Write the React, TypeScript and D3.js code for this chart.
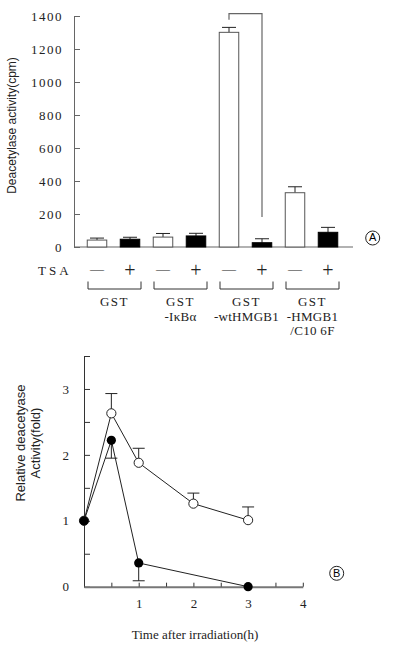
import * as d3 from "d3";
import {useEffect, useRef} from "react";

// panel A data
const groups = ["GST", "GST\n-IκBα", "GST\n-wtHMGB1", "GST\n-HMGB1\n/C10 6F"];
const tsa = ["—", "+"];
const barValues = [42, 47, 60, 67, 1301, 26, 329, 89];
const barErrors = [12, 12, 22, 16, 30, 24, 36, 30];
const yTicksA = [0, 200, 400, 600, 800, 1000, 1200, 1400];
// significance bracket between wtHMGB1 -/+ (value units)
const bracketVals = [1378, 1415, 182];

// panel B data
const timesOpen = [0, 0.5, 1, 2, 3];
const valsOpen = [1.0, 2.63, 1.88, 1.26, 1.01];
const errOpen = [0, 0.30, 0.22, 0.16, 0.20];
const timesFilled = [0, 0.5, 1, 3];
const valsFilled = [1.0, 2.22, 0.36, 0];
const errFilled = [0, 0.27, 0.27, 0];
const xTicksB = [1, 2, 3, 4];
const yTicksB = [0, 1, 2, 3];

const serif = "Liberation Serif";
const sans = "Liberation Sans";
const grey = "#666";

const App = () => {
    const ref = useRef(null);

    useEffect(() => {
        const svg = d3.select(ref.current);
        svg.selectAll("*").remove();

        // ---------- panel A ----------
        const keys = barValues.map((d, i) => "b" + i);
        const xA = d3.scalePoint().domain(keys).range([97, 328]);
        const yA = d3.scaleLinear().domain([0, 1400]).range([247, 16]);
        const barW = 19.5;

        const gy = svg.append("g")
            .attr("transform", "translate(74,0)")
            .call(d3.axisLeft(yA).tickValues(yTicksA).tickFormat(d3.format("d"))
                .tickSizeInner(-6).tickSizeOuter(0).tickPadding(11));
        gy.attr("font-family", serif).attr("font-size", 13);
        gy.select(".domain").attr("stroke", grey);
        gy.selectAll(".tick line").attr("stroke", grey);
        gy.selectAll(".tick text")
            .style("font-family", serif).style("font-size", "13px")
            .attr("letter-spacing", 1.5).attr("fill", "#222");

        svg.append("line")
            .attr("x1", 74).attr("x2", 353).attr("y1", yA(0)).attr("y2", yA(0))
            .attr("stroke", grey).attr("stroke-width", 1.2);

        svg.append("text")
            .attr("transform", `translate(13,${(yA(0) + yA(1400)) / 2 - 6}) rotate(-90)`)
            .attr("text-anchor", "middle").attr("dominant-baseline", "middle")
            .attr("font-family", sans).attr("font-size", 12).attr("fill", "#222")
            .text("Deacetylase activity(cpm)");

        // error bars
        svg.selectAll(".errA")
            .data(barValues)
            .enter()
            .append("path")
            .attr("d", (d, i) => {
                const cx = xA(keys[i]);
                const top = yA(d + barErrors[i]);
                return `M${cx},${yA(d)}V${top}M${cx - 7},${top}H${cx + 7}`;
            })
            .attr("stroke", "#222").attr("stroke-width", 1).attr("fill", "none");

        svg.selectAll(".barA")
            .data(barValues)
            .enter()
            .append("rect")
            .attr("x", (d, i) => xA(keys[i]) - barW / 2)
            .attr("y", d => yA(d))
            .attr("width", barW)
            .attr("height", d => yA(0) - yA(d))
            .attr("fill", (d, i) => i % 2 === 0 ? "#fff" : "#000")
            .attr("stroke", (d, i) => i % 2 === 0 ? "#555" : "#000")
            .attr("stroke-width", 1);

        // bracket
        const bl = xA(keys[4]), br = xA(keys[5]);
        svg.append("path")
            .attr("d", `M${bl},${yA(bracketVals[0])}V${yA(bracketVals[1])}H${br}V${yA(bracketVals[2])}`)
            .attr("stroke", grey).attr("stroke-width", 1.2).attr("fill", "none");

        // circled A
        svg.append("circle").attr("cx", 372.7).attr("cy", 238).attr("r", 7)
            .attr("fill", "none").attr("stroke", "#222");
        svg.append("text").attr("x", 372.7).attr("y", 238.5)
            .attr("text-anchor", "middle").attr("dominant-baseline", "middle")
            .attr("font-family", sans).attr("font-size", 11).text("A");

        // TSA row
        svg.append("text").attr("x", 38).attr("y", 275)
            .attr("font-family", serif).attr("font-size", 13).attr("letter-spacing", 3)
            .attr("fill", "#222").text("TSA");
        svg.selectAll(".sign")
            .data(keys)
            .enter()
            .append("text")
            .attr("x", d => xA(d))
            .attr("y", (d, i) => i % 2 === 0 ? 274 : 276.5)
            .attr("text-anchor", "middle")
            .attr("font-family", serif)
            .attr("font-size", (d, i) => i % 2 === 0 ? 14 : 20)
            .attr("fill", "#222")
            .text((d, i) => tsa[i % 2]);

        // group brackets and labels
        groups.forEach((g, gi) => {
            const mid = (xA(keys[gi * 2]) + xA(keys[gi * 2 + 1])) / 2 + 1;
            svg.append("path")
                .attr("d", `M${mid - 26.5},281.5V289H${mid + 26.5}V281.5`)
                .attr("stroke", "#333").attr("fill", "none");
            g.split("\n").forEach((line, li) => {
                svg.append("text")
                    .attr("x", mid).attr("y", 306 + li * 14.5)
                    .attr("text-anchor", "middle")
                    .attr("font-family", serif).attr("font-size", 13)
                    .attr("letter-spacing", li === 0 ? 1.5 : 0.3)
                    .attr("fill", "#222")
                    .text(line);
            });
        });

        // ---------- panel B ----------
        const xB = d3.scaleLinear().domain([0, 4]).range([84, 302.8]);
        const yB = d3.scaleLinear().domain([0, 3.5]).range([586.7, 356]);

        const gyB = svg.append("g")
            .attr("transform", "translate(84,0)")
            .call(d3.axisLeft(yB).tickValues(d3.range(0, 3.51, 0.5)).tickSizeInner(-6).tickSizeOuter(0).tickPadding(15)
                .tickFormat(d => yTicksB.includes(d) ? String(d) : ""));
        gyB.attr("font-family", serif).attr("font-size", 13);
        gyB.select(".domain").attr("stroke", "#333");
        gyB.selectAll(".tick line").attr("stroke", "#333");
        gyB.selectAll(".tick text").style("font-family", serif).style("font-size", "13px").attr("fill", "#222");

        const gxB = svg.append("g")
            .attr("transform", `translate(0,${yB(0)})`)
            .call(d3.axisBottom(xB).tickValues(d3.range(0.5, 4.01, 0.5)).tickSizeInner(-4).tickSizeOuter(0).tickPadding(12)
                .tickFormat(d => xTicksB.includes(d) ? String(d) : ""));
        gxB.attr("font-family", serif).attr("font-size", 13);
        gxB.select(".domain").attr("stroke", "#777").attr("stroke-width", 2);
        gxB.selectAll(".tick line").attr("stroke", "#333");
        gxB.selectAll(".tick text").style("font-family", serif).style("font-size", "13px").attr("fill", "#222");

        svg.append("text")
            .attr("x", 195).attr("y", 639)
            .attr("text-anchor", "middle")
            .attr("font-family", serif).attr("font-size", 13).attr("fill", "#222")
            .text("Time after irradiation(h)");

        ["Relative deacetyase", "Activity(fold)"].forEach((t, i) => {
            svg.append("text")
                .attr("transform", `translate(${21.5 + i * 15},443) rotate(-90)`)
                .attr("text-anchor", "middle").attr("dominant-baseline", "middle")
                .attr("font-family", sans).attr("font-size", 13).attr("fill", "#222")
                .text(t);
        });

        const line = d3.line().x(d => xB(d[0])).y(d => yB(d[1]));
        const openPts = timesOpen.map((t, i) => [t, valsOpen[i]]);
        const filledPts = timesFilled.map((t, i) => [t, valsFilled[i]]);

        // error bars: open up, filled down
        svg.selectAll(".errO")
            .data(openPts.filter((d, i) => errOpen[i] > 0))
            .enter()
            .append("path")
            .attr("d", d => {
                const i = timesOpen.indexOf(d[0]);
                const cx = xB(d[0]), top = yB(d[1] + errOpen[i]);
                return `M${cx},${yB(d[1])}V${top}M${cx - 6},${top}H${cx + 6}`;
            })
            .attr("stroke", "#222").attr("fill", "none");
        svg.selectAll(".errF")
            .data(filledPts.filter((d, i) => errFilled[i] > 0))
            .enter()
            .append("path")
            .attr("d", d => {
                const i = timesFilled.indexOf(d[0]);
                const cx = xB(d[0]), bot = yB(d[1] - errFilled[i]);
                return `M${cx},${yB(d[1])}V${bot}M${cx - 6},${bot}H${cx + 6}`;
            })
            .attr("stroke", "#222").attr("fill", "none");

        svg.append("path").attr("d", line(openPts))
            .attr("fill", "none").attr("stroke", "#222").attr("stroke-width", 1);
        svg.append("path").attr("d", line(filledPts))
            .attr("fill", "none").attr("stroke", "#222").attr("stroke-width", 1);

        svg.selectAll(".ptO")
            .data(openPts)
            .enter()
            .append("circle")
            .attr("cx", d => xB(d[0])).attr("cy", d => yB(d[1])).attr("r", 4.6)
            .attr("fill", "#fff").attr("stroke", "#222").attr("stroke-width", 1);
        svg.selectAll(".ptF")
            .data(filledPts)
            .enter()
            .append("circle")
            .attr("cx", d => xB(d[0])).attr("cy", d => yB(d[1])).attr("r", 4.6)
            .attr("fill", "#000");

        svg.append("circle").attr("cx", 336.7).attr("cy", 573.3).attr("r", 7)
            .attr("fill", "none").attr("stroke", "#222");
        svg.append("text").attr("x", 336.7).attr("y", 573.8)
            .attr("text-anchor", "middle").attr("dominant-baseline", "middle")
            .attr("font-family", sans).attr("font-size", 11).text("B");
    }, []);

    return (
        <svg ref={ref} width={395} height={652}
             style={{position: "absolute", left: 0, top: 0, background: "#fff"}}></svg>
    );
};

export default App;
